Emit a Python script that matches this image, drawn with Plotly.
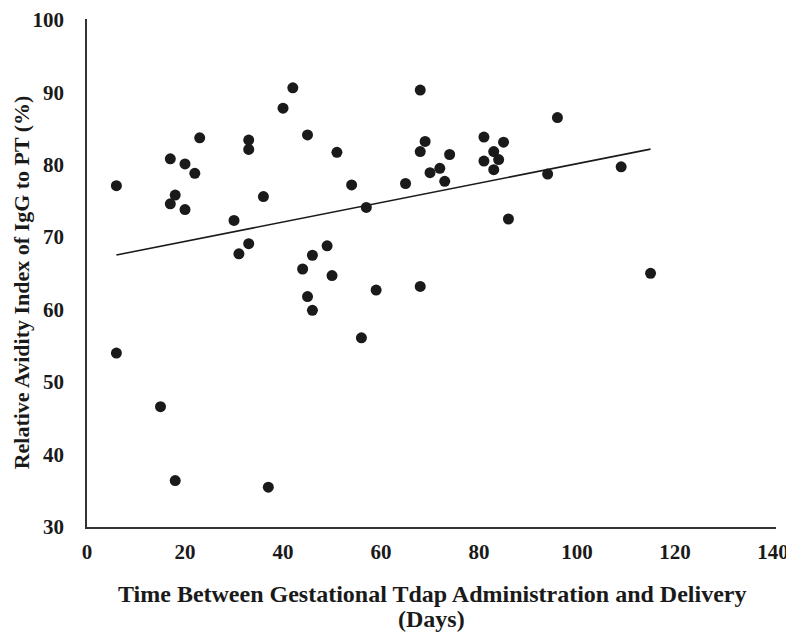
import numpy as np
import plotly.graph_objects as go

# Days between gestational Tdap administration and delivery
days = [6, 17, 20, 22, 23, 18, 17, 20, 33, 33, 42, 40, 45, 51, 54, 36, 57, 30, 33, 31,
        49, 46, 44, 50, 45, 46, 59,
        68, 69, 68, 74, 72, 70, 73, 65, 81, 85, 83, 84, 81, 83, 96, 94, 109, 86, 115, 68,
        6, 15, 18, 37, 56]
# Relative avidity index of IgG to PT (%)
avidity = [77.1, 80.8, 80.1, 78.8, 83.7, 75.8, 74.6, 73.8, 83.4, 82.1, 90.6, 87.8, 84.1, 81.7, 77.2,
           75.6, 74.1, 72.3, 69.1, 67.7, 68.8, 67.5, 65.6, 64.7, 61.8, 59.9, 62.7,
           90.3, 83.2, 81.8, 81.4, 79.5, 78.9, 77.7, 77.4, 83.8, 83.1, 81.8, 80.7, 80.5, 79.3,
           86.5, 78.7, 79.7, 72.5, 65.0, 63.2,
           54.0, 46.6, 36.4, 35.5, 56.1]

x_ticks = [0, 20, 40, 60, 80, 100, 120, 140]
y_ticks = [30, 40, 50, 60, 70, 80, 90, 100]

x_title_1 = "Time Between Gestational Tdap Administration and Delivery"
x_title_2 = "(Days)"
y_title = "Relative Avidity Index of IgG to PT (%)"

# Linear trend line (least squares)
slope, intercept = np.polyfit(days, avidity, 1)
tx = np.array([min(days), max(days)])
ty = slope * tx + intercept

font_family = "Liberation Serif"
txt_color = "#1a1a1a"

fig = go.Figure()
fig.add_trace(go.Scatter(x=tx, y=ty, mode="lines",
                         line=dict(color="#1a1a1a", width=1.6),
                         hoverinfo="skip", showlegend=False))
fig.add_trace(go.Scatter(x=days, y=avidity, mode="markers",
                         marker=dict(size=11, color="#1a1a1a"),
                         showlegend=False))

tick_font = dict(family=font_family, size=21, color=txt_color, weight="bold")

fig.update_layout(
    width=794, height=632,
    margin=dict(l=79, r=26, t=11, b=113, autoexpand=False),
    paper_bgcolor="white", plot_bgcolor="white",
    font=dict(family=font_family, color=txt_color),
    xaxis=dict(range=[0, 140.6], tickvals=x_ticks, showgrid=False, zeroline=False,
               showline=True, linecolor="#333333", linewidth=1.5, automargin=False,
               ticks="outside", ticklen=5, tickcolor="rgba(0,0,0,0)",
               ticklabeloverflow="allow", tickfont=tick_font),
    yaxis=dict(range=[30, 100.1], tickvals=y_ticks, showgrid=False, zeroline=False,
               showline=True, linecolor="#333333", linewidth=1.5, automargin=False,
               ticks="outside", ticklen=17, tickcolor="rgba(0,0,0,0)",
               ticklabeloverflow="allow", tickfont=tick_font),
    annotations=[
        dict(text=x_title_1, xref="paper", yref="paper", x=0.5, y=-0.132,
             xanchor="center", yanchor="middle", showarrow=False,
             font=dict(family=font_family, size=24, color=txt_color, weight="bold")),
        dict(text=x_title_2, xref="paper", yref="paper", x=0.5, y=-0.181,
             xanchor="center", yanchor="middle", showarrow=False,
             font=dict(family=font_family, size=24, color=txt_color, weight="bold")),
        dict(text=y_title, xref="paper", yref="paper", x=-0.0948, y=0.481,
             xanchor="center", yanchor="middle", showarrow=False, textangle=-90,
             font=dict(family=font_family, size=22, color=txt_color, weight="bold")),
    ],
)

fig.write_html("out.html")
